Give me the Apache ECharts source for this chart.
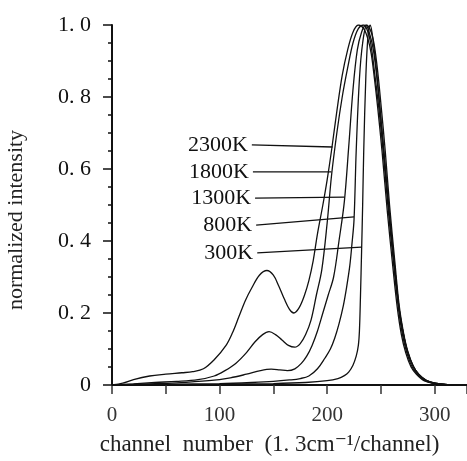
<!DOCTYPE html>
<html>
<head>
<meta charset="utf-8">
<script src="https://cdn.jsdelivr.net/npm/echarts@6/dist/echarts.min.js"></script>
<style>html,body{margin:0;padding:0;background:#fff;}#c{width:467px;height:461px;}</style>
</head>
<body>
<div id="c"></div>
<script>
// ---- data (channel number vs normalized intensity) ----
const seriesNames = ['2300K', '1800K', '1300K', '800K', '300K'];

const ch2300 = [0, 10, 20, 35, 50, 65, 75, 85, 95, 106, 112, 118, 124, 130, 137, 144, 150, 155, 160, 165, 169, 174, 179, 183, 187, 191, 196, 200, 204, 209, 214, 219, 224, 229, 234, 238, 241, 244, 247, 251, 256, 261, 265, 269, 273, 278, 283, 290, 298, 310, 330];
const v2300  = [0, 0.005, 0.015, 0.025, 0.03, 0.034, 0.037, 0.045, 0.07, 0.11, 0.145, 0.19, 0.235, 0.27, 0.305, 0.318, 0.305, 0.275, 0.24, 0.21, 0.2, 0.215, 0.25, 0.29, 0.345, 0.42, 0.5, 0.57, 0.65, 0.76, 0.86, 0.93, 0.98, 1.0, 0.99, 0.96, 0.92, 0.85, 0.77, 0.65, 0.48, 0.33, 0.22, 0.14, 0.09, 0.05, 0.03, 0.012, 0.005, 0.001, 0];

const ch1800 = [0, 20, 40, 60, 80, 95, 105, 115, 125, 133, 140, 146, 152, 158, 164, 170, 175, 180, 185, 190, 195, 200, 204, 209, 214, 219, 224, 229, 234, 238, 241, 244, 248, 252, 257, 262, 266, 270, 274, 279, 284, 291, 299, 310, 330];
const v1800  = [0, 0.003, 0.007, 0.01, 0.015, 0.025, 0.04, 0.06, 0.09, 0.12, 0.14, 0.148, 0.14, 0.125, 0.11, 0.105, 0.115, 0.14, 0.18, 0.25, 0.32, 0.45, 0.58, 0.7, 0.8, 0.88, 0.95, 0.99, 1.0, 0.98, 0.94, 0.87, 0.77, 0.65, 0.48, 0.33, 0.22, 0.14, 0.09, 0.05, 0.03, 0.012, 0.005, 0.001, 0];

const ch1300 = [0, 30, 60, 90, 110, 125, 138, 148, 156, 163, 170, 176, 181, 186, 191, 196, 201, 206, 211, 216, 220, 224, 228, 232, 236, 240, 243, 246, 249, 253, 258, 263, 267, 271, 275, 280, 285, 292, 300, 312, 330];
const v1300  = [0, 0.003, 0.006, 0.012, 0.02, 0.03, 0.04, 0.044, 0.042, 0.04, 0.045, 0.06, 0.08, 0.11, 0.15, 0.2, 0.25, 0.3, 0.4, 0.51, 0.66, 0.82, 0.93, 0.98, 1.0, 0.97, 0.93, 0.86, 0.77, 0.64, 0.47, 0.32, 0.21, 0.14, 0.09, 0.052, 0.03, 0.013, 0.005, 0.001, 0];

const ch800 = [0, 50, 100, 130, 150, 165, 175, 183, 191, 198, 203, 207, 211, 215, 218, 221, 223, 225, 227, 230, 233, 237, 241, 244, 247, 250, 254, 258, 263, 267, 271, 275, 280, 285, 292, 300, 312, 330];
const v800  = [0, 0.002, 0.004, 0.007, 0.01, 0.014, 0.018, 0.025, 0.045, 0.075, 0.1, 0.13, 0.17, 0.22, 0.27, 0.33, 0.39, 0.46, 0.65, 0.85, 0.95, 1.0, 0.98, 0.94, 0.87, 0.78, 0.65, 0.5, 0.34, 0.22, 0.145, 0.093, 0.053, 0.03, 0.013, 0.005, 0.001, 0];

const ch300 = [0, 100, 150, 180, 200, 210, 216, 220, 224, 227, 229, 230, 231, 232, 233, 234, 236, 238, 240, 243, 246, 249, 253, 258, 263, 267, 271, 275, 280, 285, 292, 300, 312, 330];
const v300  = [0, 0.002, 0.004, 0.007, 0.012, 0.018, 0.026, 0.036, 0.055, 0.08, 0.11, 0.15, 0.25, 0.37, 0.5, 0.65, 0.86, 0.97, 1.0, 0.95, 0.87, 0.77, 0.64, 0.47, 0.32, 0.21, 0.14, 0.09, 0.052, 0.03, 0.013, 0.005, 0.001, 0];

// label leader lines (data coordinates)
const annotStartCh = [130, 131, 133, 134, 135];
const annotStartV  = [0.667, 0.592, 0.519, 0.444, 0.367];
const annotEndCh   = [205, 204, 216, 225, 232];
const annotEndV    = [0.661, 0.592, 0.522, 0.467, 0.383];

// tick labels
const yTickValues = [0, 0.2, 0.4, 0.6, 0.8, 1.0];
const yTickLabels = ['0', '0. 2', '0. 4', '0. 6', '0. 8', '1. 0'];
const xTickValues = [0, 100, 200, 300];
const xTickLabels = ['0', '100', '200', '300'];

const xTitle = 'channel  number  (1. 3cm\u207B\u00B9/channel)';
const yTitle = 'normalized intensity';

// ---- build ----
const curveCh = [ch2300, ch1800, ch1300, ch800, ch300];
const curveV = [v2300, v1800, v1300, v800, v300];
const FONT = '"Liberation Serif", "DejaVu Serif", serif';

const series = [];
curveCh.forEach((chs, i) => {
  series.push({
    type: 'line',
    name: seriesNames[i],
    data: chs.map((c, k) => [c, curveV[i][k]]),
    smooth: 0.35,
    showSymbol: false,
    lineStyle: { color: '#111', width: 1.3 },
    z: 3
  });
});
seriesNames.forEach((nm, i) => {
  series.push({
    type: 'line',
    data: [
      { value: [annotStartCh[i], annotStartV[i]],
        label: { show: true, position: 'left', distance: 4, formatter: nm,
                 fontFamily: FONT, fontSize: 22, color: '#111' } },
      { value: [annotEndCh[i], annotEndV[i]] }
    ],
    showSymbol: true,
    showAllSymbol: true,
    symbol: 'circle',
    symbolSize: 0.01,
    itemStyle: { color: 'rgba(0,0,0,0)' },
    lineStyle: { color: '#111', width: 1.4 },
    silent: true,
    z: 4
  });
});

const chart = echarts.init(document.getElementById('c'), null, { renderer: 'canvas' });
chart.setOption({
  animation: false,
  backgroundColor: '#fff',
  grid: { left: 112, right: 0, top: 25, bottom: 76, containLabel: false, outerBoundsMode: 'none' },
  xAxis: {
    type: 'value', min: 0, max: 330, interval: 100,
    name: xTitle, nameLocation: 'middle', nameGap: 48,
    nameTextStyle: { fontFamily: FONT, fontSize: 23, color: '#222', padding: [0, 40, 0, 0] },
    axisLine: { show: true, onZero: false, lineStyle: { color: '#111', width: 2 } },
    axisTick: { show: true, length: 9, lineStyle: { color: '#333', width: 1.5 } },
    minorTick: { show: true, splitNumber: 2, length: 9, lineStyle: { color: '#333', width: 1.5 } },
    splitLine: { show: false },
    axisLabel: {
      margin: 20, fontFamily: FONT, fontSize: 21, color: '#333', showMaxLabel: false,
      formatter: v => { const k = xTickValues.indexOf(v); return k >= 0 ? xTickLabels[k] : ''; }
    }
  },
  yAxis: {
    type: 'value', min: 0, max: 1.0, interval: 0.2,
    name: yTitle, nameLocation: 'middle', nameGap: 85, nameRotate: 90,
    nameTextStyle: { fontFamily: FONT, fontSize: 22, color: '#222', padding: [0, 30, 0, 0] },
    axisLine: { show: true, lineStyle: { color: '#111', width: 2 } },
    axisTick: { show: true, length: 9, lineStyle: { color: '#111', width: 1.5 } },
    minorTick: { show: true, splitNumber: 4, length: 4, lineStyle: { color: '#111', width: 1.5 } },
    splitLine: { show: false },
    axisLabel: {
      margin: 21, fontFamily: FONT, fontSize: 22, color: '#111',
      formatter: v => { const k = yTickValues.findIndex(t => Math.abs(t - v) < 1e-6); return k >= 0 ? yTickLabels[k] : ''; }
    }
  },
  series: series
});
</script>
</body>
</html>
